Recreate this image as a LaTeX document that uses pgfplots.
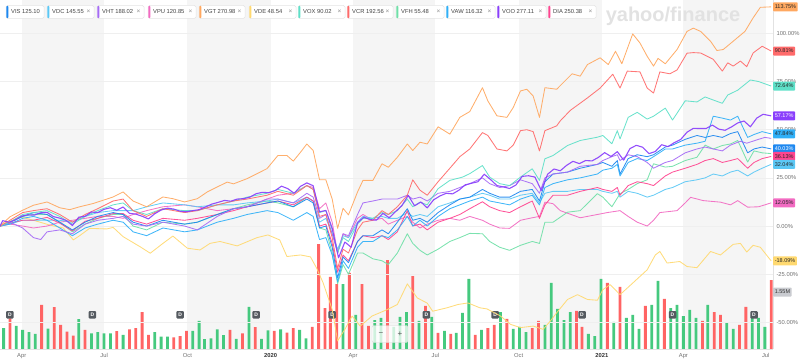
\documentclass[border=0pt]{standalone}
\usepackage{fontspec}
\setmainfont{Liberation Sans}
\usepackage{pgfplots}
\pgfplotsset{compat=1.18}
\definecolor{cVIS}{HTML}{1E88F0}
\definecolor{cVDC}{HTML}{5BC8F5}
\definecolor{cVHT}{HTML}{A66CF5}
\definecolor{cVPU}{HTML}{F26BC2}
\definecolor{cVGT}{HTML}{FFA860}
\definecolor{cVDE}{HTML}{FFD970}
\definecolor{cVOX}{HTML}{5EE0C8}
\definecolor{cVCR}{HTML}{FF6B6B}
\definecolor{cVFH}{HTML}{70E0A8}
\definecolor{cVAW}{HTML}{30B0F8}
\definecolor{cVOO}{HTML}{8A3FFC}
\definecolor{cDIA}{HTML}{FF4590}
\definecolor{volred}{HTML}{FF6464}
\definecolor{volgreen}{HTML}{45C97E}
\definecolor{band}{HTML}{F5F5F5}
\definecolor{gridgray}{HTML}{EFEFEF}
\definecolor{axisgray}{HTML}{E2E2E2}
\definecolor{tickgray}{HTML}{707070}
\definecolor{darktext}{HTML}{333333}
\definecolor{chiptext}{HTML}{444444}
\definecolor{chipborder}{HTML}{E4E4E4}
\definecolor{wm}{HTML}{E2E2E2}
\definecolor{dmark}{HTML}{555A60}
\definecolor{volbox}{HTML}{C9CBD0}
\newcommand{\chip}[4]{%
  \fill[white, draw=chipborder, line width=0.5pt, rounded corners=1.5pt] (#1,330.5) rectangle (#2,343.5);
  \fill[#3, rounded corners=0.8pt] (#1+0.4,330.9) rectangle (#1+2.4,343.1);
  \node[anchor=west, inner sep=0pt, font=\fontsize{5.8}{6}\selectfont, text=chiptext] at (#1+5,337) {#4};}
\newcommand{\chipx}[1]{\node[inner sep=0pt, font=\fontsize{6.5}{6.5}\selectfont, text=black!45] at (#1-5.5,337) {×};}
\tikzset{lbl/.style={anchor=west, inner xsep=1.6pt, inner ysep=0pt, minimum height=9pt, font=\fontsize{5.5}{5.5}\selectfont, rounded corners=0.8pt, text=black!85}}
\begin{document}
\begin{tikzpicture}[x=1pt,y=1pt]
\path[use as bounding box] (0,-13) rectangle (800,349);
% ---------- volume axis (background bands, bars, dividend marks)
\begin{axis}[at={(0,0)}, anchor=south west, scale only axis, width=773pt, height=349pt,
  xmin=0, xmax=854, ymin=0, ymax=7.85, hide axis, clip=true]
\fill[band] (axis cs:24,0) rectangle (axis cs:115,7.85);
\fill[band] (axis cs:207,0) rectangle (axis cs:299,7.85);
\fill[band] (axis cs:390,0) rectangle (axis cs:481,7.85);
\fill[band] (axis cs:573,0) rectangle (axis cs:665,7.85);
\fill[band] (axis cs:755,0) rectangle (axis cs:846,7.85);
\addplot[ybar, bar width=2.8pt, bar shift=0pt, fill=volred, draw=none] coordinates {
(11,0.69) (46,0.99) (60,0.94) (67,0.54) (74,0.39) (81,0.30) (94,0.43) (129,0.40) (143,0.44) (150,0.47) (157,0.83) (164,0.32) (192,0.26) (199,0.29) (206,0.41) (254,0.43) (268,0.35) (282,0.49) (303,0.41) (317,0.37) (324,0.47) (345,0.50) (352,2.36) (359,0.92) (365,1.62) (372,1.46) (386,1.71) (400,1.46) (407,0.52) (428,2.0) (456,1.64) (470,0.97) (484,0.36) (498,0.34) (525,0.32) (539,0.47) (546,0.54) (560,0.68) (588,0.47) (595,0.63) (637,0.86) (643,0.50) (671,1.49) (685,1.40) (713,0.97) (734,1.13) (776,0.63) (789,0.83) (796,0.77) (817,0.54) (824,0.95) (852,1.55)};
\addplot[ybar, bar width=2.8pt, bar shift=0pt, fill=volgreen, draw=none] coordinates {
(4,0.47) (18,0.52) (25,0.43) (32,0.38) (39,0.34) (53,0.46) (87,0.67) (101,0.35) (108,0.38) (115,0.35) (122,0.35) (136,0.32) (171,0.38) (178,0.28) (185,0.28) (213,0.41) (220,0.63) (226,0.22) (233,0.24) (240,0.44) (247,0.31) (261,0.23) (275,0.95) (289,0.23) (296,0.42) (310,0.44) (331,0.43) (338,0.24) (379,1.46) (393,0.77) (414,0.65) (421,0.70) (435,0.50) (442,0.72) (449,0.83) (463,0.63) (477,0.72) (491,0.41) (504,0.36) (511,0.81) (518,1.58) (532,0.43) (553,0.83) (567,0.45) (574,0.50) (581,0.38) (602,0.54) (609,1.49) (616,0.90) (623,0.65) (630,0.83) (650,0.34) (657,0.29) (664,1.58) (678,0.61) (692,0.70) (699,0.77) (706,0.45) (720,0.99) (727,1.53) (741,0.92) (748,0.99) (755,0.74) (762,0.88) (769,0.70) (782,0.99) (803,0.59) (810,0.45) (831,0.77) (838,0.70) (845,0.50)};
\addplot[draw=none, nodes near coords={\textbf{D}},
  every node near coord/.style={anchor=center, fill=dmark, text=white, rounded corners=1pt, inner sep=0pt, minimum size=7.5pt, font=\fontsize{5}{5}\selectfont}]
  coordinates {(11,0.77) (102,0.77) (199,0.77) (283,0.77) (367,0.77) (471,0.77) (547,0.77) (643,0.77) (743,0.77) (833,0.77)};
\end{axis}
% watermark
\node[font=\fontsize{20}{20}\selectfont\bfseries, text=wm] at (673,333) {yahoo/finance};
% ---------- price axis
\begin{axis}[at={(0,0)}, anchor=south west, scale only axis, width=773pt, height=349pt,
  xmin=0, xmax=854, ymin=-63.8, ymax=117.3, clip=true,
  axis x line*=bottom, axis y line*=right, axis line style={draw=axisgray, line width=0.6pt},
  xtick={24,115,207,299,390,481,573,665,755,846},
  xticklabels={Apr,Jul,Oct,\textcolor{darktext}{\textbf{2020}},Apr,Jul,Oct,\textcolor{darktext}{\textbf{2021}},Apr,Jul},
  ytick={-50,-25,0,25,50,75,100},
  yticklabels={-50.00\%,-25.00\%,0.00\%,25.00\%,50.00\%,75.00\%,100.00\%},
  major tick length=0pt, ymajorgrids, grid style={draw=gridgray, line width=0.5pt},
  tick label style={font=\fontsize{5.8}{6}\selectfont, text=tickgray},
  yticklabel style={anchor=west}, xticklabel style={yshift=-1pt},
  every axis plot/.append style={line width=0.85pt, line join=round, opacity=0.92}]
% VDE
\addplot[cVDE] coordinates {(0,0) (22,4.8) (37,3) (55,0.5) (70,-1) (81,-7.2) (88,-5) (99,-1.2) (118,-1.5) (125,-0.7) (136,-5.5) (155,-10.8) (166,-14.1) (180,-9) (191,-5.2) (207,-11.5) (221,-12.4) (232,-9) (243,-8) (262,-10.3) (284,-6) (296,-4.6) (309,-7.2) (317,-15.8) (332,-15) (343,-16) (350,-22) (357,-29.5) (367,-43.3) (373,-59.6) (381,-53.6) (389,-46.7) (398,-51.9) (411,-46.7) (428,-43.3) (439,-40.7) (450,-30) (461,-37.3) (472,-40) (478,-44.2) (494,-42.4) (506,-40.7) (517,-39.9) (530,-42.4) (538,-43) (553,-46.7) (564,-51) (575,-52.7) (589,-51.9) (600,-53.6) (608,-49.3) (615,-45) (627,-38.1) (638,-35.6) (649,-38.1) (660,-38.5) (666,-33) (674,-30.4) (685,-35.6) (699,-29.6) (715,-22.7) (724,-15) (729,-13.2) (737,-19.2) (751,-18.4) (759,-21) (770,-21.6) (785,-13.2) (796,-15) (810,-9.5) (818,-9) (825,-13.5) (832,-10) (840,-11) (852,-18.09)};
% VPU
\addplot[cVPU] coordinates {(0,0) (11,1) (25,0) (37,-1) (52,0) (66,2) (80,3) (94,4) (108,5) (125,5) (136,4) (147,6) (162,8) (180,10) (204,11) (218,10) (240,8) (258,9) (273,10) (295,14) (307,16) (324,17) (339,21) (346,20) (353,9) (360,12) (367,2) (373,-14) (379,-4) (385,-6) (395,4) (401,6) (412,3) (422,4) (429,1) (439,3) (450,5) (456,2) (464,-1) (472,1) (484,3) (497,4) (508,3) (519,5) (533,3) (541,1) (552,-1) (563,-1.2) (575,3) (588,4.3) (596,5) (602,12.4) (611,11.6) (619,8) (641,4.3) (660,6) (671,7) (685,8) (694,5) (704,2) (715,0) (722,3) (729,7) (748,8) (757,12) (763,14.9) (777,13.2) (796,12.4) (807,11) (815,13.2) (826,9.8) (838,10) (845,11) (852,12.05)};
% VFH
\addplot[cVFH] coordinates {(0,0) (11,2) (25,5) (37,6) (52,6) (66,2) (80,-3) (94,1) (108,4) (125,6) (136,6) (147,0) (162,-2) (180,2) (204,1) (218,2) (240,6) (258,9) (273,11) (295,13) (307,12) (324,10) (339,15) (346,13) (353,-1) (360,-2) (367,-14) (373,-30) (379,-20) (385,-25) (395,-14) (401,-14) (412,-17) (422,-18) (429,-20) (439,-14) (450,-4) (456,-9) (464,-12.6) (472,-15) (484,-12) (497,-8) (508,-6) (519,-3.8) (533,-4) (541,-8) (552,-11) (563,-12.6) (575,-10) (588,-8) (596,-9) (602,2) (611,2) (627,7.2) (641,8) (660,16.8) (666,15) (676,10) (685,16.8) (694,19) (704,22) (715,24) (722,32.3) (735,30.6) (743,31) (757,34) (770,35.7) (779,42) (788,40) (798,41.8) (807,42.6) (815,44.4) (826,33.2) (833,39) (842,38) (852,37.6)};
% VDC
\addplot[cVDC] coordinates {(0,0) (11,1) (25,3) (37,3) (52,3) (66,3) (80,2) (94,5) (108,7) (125,8) (136,8) (147,8) (162,10) (180,12) (204,11) (218,10) (240,11) (258,11) (273,12) (295,13) (307,14) (324,12) (339,15) (346,13) (353,2) (360,4) (367,-4) (373,-12) (379,-5) (385,-6) (395,2) (401,5) (412,4) (422,5) (429,4) (439,4) (450,7) (456,5) (464,6) (472,5) (484,10) (497,12) (508,14) (519,15) (533,17) (541,16) (552,14) (563,14) (575,16) (588,17) (596,12) (602,17) (611,18) (627,18) (641,19) (660,19) (666,18) (676,17) (682,18) (685,15) (694,18) (704,17) (715,15) (722,16) (735,19) (743,20) (757,23) (770,24) (779,25) (788,27) (798,26) (807,28) (815,29) (826,26) (833,28) (842,30) (852,32.04)};
% DIA
\addplot[cDIA] coordinates {(0,0) (11,1.5) (25,3) (37,3) (52,4.5) (66,1.5) (80,-2.5) (94,2.5) (108,4) (125,6.5) (136,6.5) (147,3) (162,1) (180,4) (204,3) (218,4) (240,6) (258,8) (273,10) (295,12) (307,13) (324,11) (339,15) (346,13) (353,0) (360,1) (367,-9) (373,-24) (379,-15) (385,-18) (395,-8) (401,-5) (412,-6) (422,-5) (429,-7) (439,-3) (450,8) (456,0) (464,1) (472,-2) (484,2) (497,4) (508,6) (519,9) (533,12.6) (541,10) (552,8) (563,7) (575,10) (588,13) (596,4) (602,11) (611,16) (627,16) (641,18) (660,20) (666,19) (676,18) (682,20) (685,16) (694,21) (704,23) (715,22) (722,21) (735,26) (743,28) (757,30) (770,32) (779,34) (788,35) (798,33) (807,34) (815,35) (826,30) (833,33) (842,35) (852,36.13)};
% VIS
\addplot[cVIS] coordinates {(0,0) (11,2) (25,5) (37,7) (52,6) (66,2) (80,-2) (94,2) (108,5) (125,7) (136,6) (147,2) (162,0) (180,3) (204,1) (218,2) (240,6) (258,9) (273,10) (295,12) (307,13) (324,10) (339,14) (346,12) (353,-1) (360,0) (367,-11) (373,-27) (379,-16) (385,-19) (395,-8) (401,-5) (412,-5) (422,-2) (429,-4) (439,2) (450,9) (456,3) (464,4) (472,2) (484,7) (497,11) (508,14) (519,15) (533,19) (541,17) (552,15) (563,15) (575,18) (588,19) (596,13) (602,23) (611,27) (627,28) (641,30) (660,32) (666,33) (676,31) (682,34) (685,27) (694,35) (704,37) (715,36) (722,37) (735,41) (743,42) (757,45) (770,47) (779,46) (788,47) (798,46) (807,48) (815,49) (826,38) (833,40) (842,41) (852,40.03)};
% VAW
\addplot[cVAW] coordinates {(0,0) (11,1) (25,4) (37,5) (52,3) (66,-1) (80,-5) (94,-1) (108,1) (125,3) (136,2) (147,-3) (162,-5) (180,-1) (204,-3) (218,-2) (240,2) (258,4) (273,6) (295,8) (307,7) (324,3) (339,7) (346,5) (353,-7) (360,-6) (367,-15) (373,-29) (379,-18) (385,-22) (395,-11) (401,-8) (412,-8) (422,-5) (429,-6) (439,-2) (450,5) (456,0) (464,3) (472,0) (484,5) (497,9) (508,11) (519,13) (533,15) (541,13) (552,12) (563,11) (575,14) (588,16) (596,11) (602,20) (611,22) (627,24) (641,25) (660,27) (666,29) (676,30) (682,32) (685,26) (694,33) (704,35) (715,34) (722,36) (735,40) (743,40) (757,42) (770,43) (779,44) (788,57) (798,56) (807,55) (815,57) (826,46) (833,47.5) (842,49) (852,47.84)};
% VHT
\addplot[cVHT] coordinates {(0,0) (11,2) (25,-1) (37,-6) (45,-7) (52,-3) (66,-2) (80,-4) (94,1) (108,3) (125,4) (136,5) (147,1) (162,0) (180,2) (204,0) (218,-2) (240,5) (258,9) (273,10) (295,14) (307,14) (324,12) (339,17) (346,15) (353,4) (360,6) (367,-4) (373,-14) (379,-4) (385,-5) (395,6) (401,12) (412,13) (422,14) (429,14) (439,14) (450,16) (456,14) (464,15) (472,13) (484,17) (497,18) (508,20) (519,22) (533,25) (541,22) (552,20) (563,21) (575,24) (588,22) (596,17) (602,25) (611,27) (627,28) (641,31) (660,32) (666,34) (676,36) (682,37) (685,34) (694,37) (704,36) (715,33) (722,30) (735,33) (743,34) (757,38) (770,40) (779,41) (788,40) (798,39) (807,42) (818,44) (825,43) (838,45) (845,46) (852,45.5)};
% VOX
\addplot[cVOX] coordinates {(0,0) (11,2) (25,6) (37,7) (52,8) (66,5) (80,1) (94,5) (108,8) (125,11) (136,12) (147,8) (162,6) (180,9) (204,8) (218,8) (240,11) (258,13) (273,15) (295,17) (307,19) (324,17) (339,21) (346,19) (353,7) (360,8) (367,-2) (373,-14) (379,-6) (385,-8) (395,1) (401,4) (412,4) (422,7) (429,6) (439,8) (450,14) (456,10) (464,12.4) (472,11) (484,19.4) (497,23.7) (511,25.4) (519,27.2) (533,31.4) (541,25.4) (552,22) (563,21) (575,25.4) (588,29.7) (596,23.7) (602,34.9) (611,36.6) (627,41.8) (641,44.4) (660,46.1) (666,47) (676,42.7) (682,49.5) (685,45.2) (694,56.4) (704,59) (715,55.5) (722,57) (735,61.2) (743,55) (757,65) (770,64.4) (779,67) (788,65.4) (798,63.7) (804,68) (815,70.5) (829,75.8) (838,75) (852,72.64)};
% VCR
\addplot[cVCR] coordinates {(0,0) (11,3) (25,7) (37,8) (52,9) (66,6) (80,2) (94,6) (108,9) (125,13) (136,14) (147,8) (162,5) (180,9) (204,7) (218,8) (240,11) (258,13) (273,14) (295,16) (307,18) (324,16) (339,21) (346,19) (353,5) (360,6) (367,-6) (373,-22) (379,-12) (385,-14) (395,-2) (401,2) (412,3) (422,8) (429,6) (439,10) (450,16) (456,24) (464,18.6) (472,16) (484,23) (497,30) (508,36) (519,40) (533,48.5) (539,47) (549,40) (560,39) (567,42) (575,49.5) (582,50) (589,49) (596,39) (602,49.5) (615,52) (619,54.6) (630,60) (649,66.5) (663,71.6) (677,78.8) (685,71.6) (693,80.4) (707,80) (715,71.6) (722,69) (729,80) (740,79) (748,81) (759,89.7) (766,90) (774,89.8) (788,86.5) (798,80.4) (804,84.7) (810,83) (818,85.6) (825,82.7) (832,89.8) (842,93.3) (852,90.81)};
% VGT
\addplot[cVGT] coordinates {(0,0) (11,4.8) (25,8.2) (37,10.8) (52,12.5) (66,9.5) (77,8.5) (88,10) (103,11.7) (125,15.1) (136,17.7) (147,13) (162,10) (180,15.1) (191,14.2) (204,12.5) (218,14.2) (229,17.7) (240,20.3) (251,22.8) (258,21.9) (273,24.6) (284,27.2) (295,29.8) (307,36.6) (317,36.6) (324,33.7) (332,38.3) (339,42.6) (346,39.2) (353,24.0) (360,24.0) (367,14) (373,-1.2) (379,9.2) (385,5.8) (395,17.7) (401,23.7) (412,23.7) (422,32.3) (429,30.5) (439,35.7) (450,42.6) (456,39.2) (464,43.5) (472,42.6) (484,51.5) (497,47.7) (508,56.4) (519,59.4) (533,71.8) (539,64.9) (549,57.2) (560,56.4) (567,61.5) (575,70.1) (582,71) (589,67.5) (596,56.4) (602,71.8) (615,71) (632,79) (641,77.8) (649,83.8) (663,87.3) (672,83.8) (680,90.7) (687,84.2) (699,99.7) (707,95.0) (715,88.1) (722,83) (727,87) (735,84.2) (748,91.6) (759,101) (766,102.7) (774,101) (785,95.9) (792,91.1) (799,91.6) (810,95.9) (823,101) (832,108) (840,113.5) (852,113.75)};
% VOO
\addplot[cVOO, line width=1.1pt] coordinates {(0,0) (3,2.8) (10,2.0) (17,3.2) (24,5.2) (31,5.8) (38,5.7) (45,6.9) (52,7.1) (59,4.9) (66,4.1) (73,2.9) (80,0.3) (87,4.6) (94,5.1) (101,7.3) (108,7.0) (115,8.7) (122,9.5) (129,8.2) (136,9.9) (143,6.6) (150,6.2) (157,5.1) (164,3.7) (171,6.4) (178,8.3) (185,9.3) (192,8.8) (199,7.7) (206,7.4) (213,8.0) (220,8.5) (227,9.9) (234,11.4) (241,12.3) (248,13.3) (255,12.9) (262,14.0) (269,14.2) (276,15.0) (283,16.8) (290,17.5) (297,17.3) (304,18.4) (311,20.7) (318,19.4) (325,17.0) (332,20.6) (339,22.4) (346,20.9) (353,7.4) (360,8.1) (367,-1.1) (374,-16.5) (381,-8.3) (388,-11) (395,1.7) (402,4.6) (409,3.3) (416,3.1) (423,6.6) (430,4.3) (437,7.5) (444,10.6) (451,15.9) (458,10.5) (465,12.5) (472,9.4) (479,13.6) (486,15.6) (493,17.0) (500,16.7) (507,18.6) (514,21.4) (521,22.2) (528,23.0) (535,26.9) (542,24.1) (549,21.0) (556,20.3) (563,19.5) (570,21.3) (577,25.8) (584,26.1) (591,25.4) (598,18.5) (605,26.9) (612,29.6) (619,28.7) (626,31.5) (633,33.6) (640,32.4) (647,34.0) (654,33.8) (661,35.6) (668,38.1) (675,36.1) (682,38.6) (689,34.2) (696,40.2) (703,41.9) (710,40.9) (717,37.6) (724,38.7) (731,42.2) (738,41.2) (745,43.3) (752,44.9) (759,48.7) (766,50.7) (773,50.6) (780,50.6) (787,52.4) (794,50.3) (801,49.7) (808,51.4) (815,53.5) (822,54.5) (829,51.5) (836,56) (843,58) (852,57.17)};
\coordinate (eVGT) at (axis cs:854,113.75);
\coordinate (eVCR) at (axis cs:854,90.81);
\coordinate (eVOX) at (axis cs:854,72.64);
\coordinate (eVOO) at (axis cs:854,57.17);
\coordinate (eVAW) at (axis cs:854,47.84);
\coordinate (eVIS) at (axis cs:854,40.03);
\coordinate (eDIA) at (axis cs:854,36.13);
\coordinate (eVDC) at (axis cs:854,32.04);
\coordinate (eVPU) at (axis cs:854,12.05);
\coordinate (eVDE) at (axis cs:854,-18.09);
\coordinate (eVOL) at (axis cs:854,-34.25);
\end{axis}
% end labels
\node[lbl, fill=cVGT] at (eVGT) {113.75\%};
\node[lbl, fill=cVCR] at (eVCR) {90.81\%};
\node[lbl, fill=cVOX] at (eVOX) {72.64\%};
\node[lbl, fill=cVOO, text=white] at (eVOO) {57.17\%};
\node[lbl, fill=cVAW] at (eVAW) {47.84\%};
\node[lbl, fill=cVIS, text=white] at (eVIS) {40.03\%};
\node[lbl, fill=cDIA] at (eDIA) {36.13\%};
\node[lbl, fill=cVDC] at (eVDC) {32.04\%};
\node[lbl, fill=cVPU] at (eVPU) {12.05\%};
\node[lbl, fill=cVDE] at (eVDE) {-18.09\%};
\node[lbl, fill=volbox, text=darktext] at (eVOL) {1.55M};
% zoom control
\node[draw=black!15, fill=white, fill opacity=0.75, rounded corners=2pt, minimum width=36pt, minimum height=17pt] at (390,15) {};
\node[font=\fontsize{8}{8}\selectfont, text=black!65] at (381,15) {−};
\node[font=\fontsize{8}{8}\selectfont, text=black!65] at (400,15) {+};
% legend chips
\chip{6}{44}{cVIS}{VIS 125.10}
\chip{47}{94}{cVDC}{VDC 145.55}\chipx{94}
\chip{97}{144}{cVHT}{VHT 188.02}\chipx{144}
\chip{148}{196}{cVPU}{VPU 120.85}\chipx{196}
\chip{199}{245}{cVGT}{VGT 270.98}\chipx{245}
\chip{249}{296}{cVDE}{VDE 48.54}\chipx{296}
\chip{298}{345}{cVOX}{VOX 90.02}\chipx{345}
\chip{347}{393}{cVCR}{VCR 192.56}\chipx{393}
\chip{396}{444}{cVFH}{VFH 55.48}\chipx{444}
\chip{446}{495}{cVAW}{VAW 116.32}\chipx{495}
\chip{497}{546}{cVOO}{VOO 277.11}\chipx{546}
\chip{548}{596}{cDIA}{DIA 250.38}\chipx{596}
\end{tikzpicture}
\end{document}
